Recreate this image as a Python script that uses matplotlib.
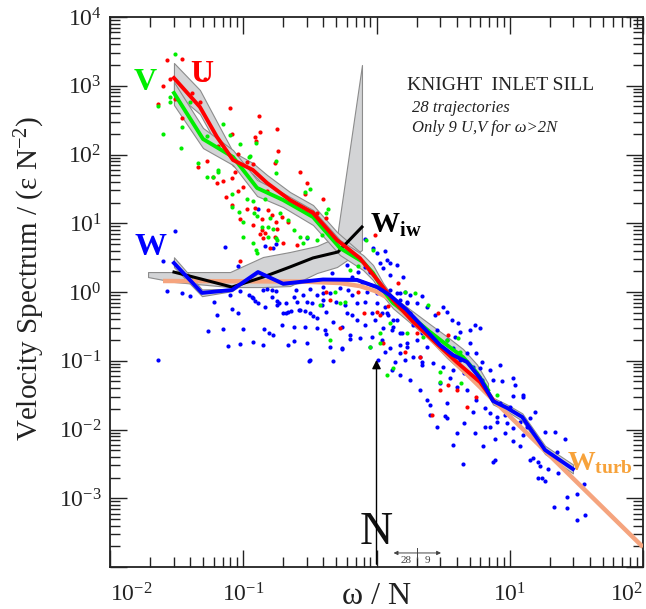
import numpy as np
import matplotlib
matplotlib.use('Agg')
import matplotlib.pyplot as plt
from matplotlib.ticker import LogLocator, NullFormatter, FixedLocator

plt.rcParams['font.family'] = ['Liberation Serif', 'DejaVu Serif']
plt.rcParams['mathtext.fontset'] = 'custom'
plt.rcParams['mathtext.rm'] = 'Liberation Serif'
plt.rcParams['mathtext.it'] = 'Liberation Serif:italic'
plt.rcParams['mathtext.bf'] = 'Liberation Serif:bold'
plt.rcParams['axes.unicode_minus'] = False

# ---------------- mean spectra (omega/N , spectrum / (eps N^-2)) ----------------
u_x = [0.0302, 0.0473, 0.0635, 0.0838, 0.118, 0.151, 0.224, 0.334, 0.505, 0.752,
       1.06, 1.33, 1.88, 3.00, 4.02, 4.78, 5.98, 7.49]
u_y = [1297, 491, 180, 83.2, 59.6, 38.5, 21.8, 14.1, 5.70, 3.1,
       1.35, 0.765, 0.37, 0.16, 0.095, 0.071, 0.049, 0.0269]

v_x = [0.0302, 0.0499, 0.0838, 0.127, 0.199, 0.334, 0.532, 0.793, 0.942, 1.12,
       1.33, 1.88, 2.52, 3.38, 4.46, 5.68, 6.87]
v_y = [785, 168, 92, 32.6, 21.8, 12.3, 4.36, 2.73, 1.89, 1.07,
       0.692, 0.419, 0.262, 0.169, 0.113, 0.0664, 0.0376]

w_x = [0.0302, 0.0490, 0.0823, 0.129, 0.199, 0.397, 0.714, 1.01, 1.26, 1.69,
       2.23, 3.00, 3.75, 4.78, 5.98, 7.49, 9.54, 12.4, 18.4, 29.8]
w_y = [2.64, 0.97, 1.07, 1.95, 1.32, 1.52, 1.50, 1.18, 0.90, 0.547,
       0.310, 0.169, 0.121, 0.096, 0.056, 0.026, 0.0206, 0.0152, 0.00504, 0.00266]

iw_x = [0.0302, 0.0473, 0.0823, 0.141, 0.224, 0.334, 0.514, 0.778]
iw_y = [1.95, 1.56, 1.18, 1.65, 2.31, 3.13, 3.82, 8.82]

turb_x = [0.0250, 0.267, 0.532, 0.751, 0.975, 1.26, 5.98, 100]
turb_y = [1.445, 1.42, 1.35, 1.22, 1.035, 0.79, 0.0415, 1.95e-4]

# ---------------- confidence bands ----------------
u_band_x = u_x[:10]
u_band_hi = [2143, 867, 297, 109, 75.2, 50.3, 28.5, 18.4, 7.46, 3.82]
u_band_lo = [811, 388, 137, 68.0, 52.0, 32.6, 18.4, 11.9, 4.83, 2.47]

v_band_x = v_x
v_band_hi = [1134, 243, 116, 42.6, 27.5, 15.6, 5.71, 3.45, 2.47, 1.35,
             0.846, 0.52, 0.34, 0.225, 0.148, 0.088, 0.047]
v_band_lo = [525, 124, 70.3, 24.9, 17.2, 9.43, 3.45, 2.09, 1.49, 0.875,
             0.58, 0.33, 0.2, 0.11, 0.068, 0.045, 0.032]

w_band_x = w_x
w_band_hi = [3.2, 1.09, 1.11, 2.03, 1.37, 1.58, 1.56, 1.23, 0.94, 0.57,
             0.322, 0.176, 0.126, 0.10, 0.060, 0.029, 0.0231, 0.0172, 0.0058, 0.0031]
w_band_lo = [2.3, 0.87, 1.03, 1.87, 1.27, 1.46, 1.44, 1.13, 0.865, 0.526,
             0.298, 0.162, 0.116, 0.092, 0.052, 0.0232, 0.0184, 0.0134, 0.0044, 0.0023]

iw_band_x = [0.0193, 0.0302, 0.0796, 0.1407, 0.2243, 0.3577, 0.505, 0.778]
iw_band_hi = [1.95, 1.95, 1.95, 3.23, 3.82, 4.67, 6.31, 2004]
iw_band_lo = [1.65, 1.40, 1.18, 1.18, 1.22, 1.89, 2.31, 4.08]

# ---------------- individual trajectory spectra ----------------
u_pts = [(0.035, 2450), (0.027, 2370), (0.028, 1250), (0.025, 980), (0.023, 540), (0.052, 1260),
         (0.041, 780), (0.031, 640), (0.047, 580), (0.080, 470), (0.035, 340), (0.131, 360),
         (0.18, 234), (0.134, 212), (0.123, 180), (0.125, 157), (0.083, 198), (0.183, 112),
         (0.065, 133), (0.053, 81), (0.046, 66), (0.087, 56), (0.107, 78), (0.091, 102),
         (0.119, 73), (0.173, 75), (0.059, 47), (0.064, 38), (0.071, 41), (0.083, 45),
         (0.267, 56), (0.30, 38), (0.099, 34), (0.092, 29), (0.15, 29), (0.29, 27),
         (0.40, 22.5), (0.074, 24), (0.082, 18.4), (0.106, 16.2), (0.123, 16.5), (0.154, 15.6),
         (0.0945, 11.6), (0.165, 13.2), (0.195, 12.3), (0.138, 11.6), (0.177, 10.4), (0.119, 9.4),
         (0.138, 8.0), (0.134, 7.0), (0.141, 6.1), (0.173, 6.3), (0.215, 10.4), (0.18, 8.2),
         (0.255, 4.8), (0.0945, 2.8), (0.33, 14.6), (0.42, 11.9), (0.36, 14.1), (0.20, 5.2),
         (0.146, 7.2), (0.159, 4.4), (0.97, 6.75), (1.45, 1.35), (0.73, 1.0), (0.448, 0.765),
         (1.0, 0.51), (0.53, 0.30), (0.80, 0.50), (2.0, 0.25), (0.42, 1.0), (1.06, 0.46),
         (1.22, 0.63), (1.12, 0.18), (1.64, 0.134), (2.12, 0.114), (2.2, 0.28), (3.45, 0.237),
         (2.9, 0.50), (4.1, 0.13), (4.0, 0.0376), (3.0, 0.0376), (4.8, 0.0213), (5.6, 0.030),
         (2.6, 0.0163), (3.45, 0.0444)]

v_pts = [(0.031, 2900), (0.028, 690), (0.028, 585), (0.023, 500), (0.040, 580), (0.035, 250),
         (0.025, 200), (0.071, 280), (0.080, 192), (0.053, 185), (0.034, 124), (0.125, 146),
         (0.112, 95), (0.046, 75), (0.177, 80), (0.065, 59.5), (0.053, 47), (0.059, 47),
         (0.0945, 141), (0.11, 92), (0.065, 56), (0.082, 26.6), (0.106, 22.5), (0.119, 21),
         (0.146, 22.5), (0.083, 17.2), (0.093, 14.6), (0.12, 14.1), (0.127, 12.7), (0.159, 11.9),
         (0.189, 14.1), (0.215, 11.1), (0.10, 10.4), (0.138, 8.8), (0.154, 8.8), (0.167, 8.2),
         (0.10, 6.3), (0.119, 5.2), (0.127, 3.7), (0.154, 6.3), (0.18, 5.7), (0.267, 6.3),
         (0.30, 6.3), (0.177, 54), (0.29, 28.5), (0.317, 31.5), (0.30, 15.6), (0.42, 14.1),
         (0.36, 5.7), (0.43, 16.1), (0.125, 4.1), (0.177, 6.1), (0.24, 8.0), (0.28, 5.2),
         (0.39, 6.75), (0.633, 2.09), (0.73, 2.4), (0.488, 1.0), (0.53, 0.69), (0.58, 0.72),
         (0.377, 0.647), (0.448, 0.20), (0.894, 0.16), (1.06, 0.18), (1.64, 1.0), (1.26, 0.35),
         (1.95, 0.98), (2.44, 0.647), (1.06, 0.25), (4.23, 0.134), (4.1, 0.214), (1.2, 0.062),
         (1.33, 0.0785), (3.0, 0.049), (4.3, 0.047), (8.0, 0.032), (0.83, 5.7), (0.94, 4.1),
         (1.69, 0.25), (2.25, 0.224), (3.36, 0.2), (3.0, 0.069)]

w_pts = [(0.031, 7.7), (0.025, 2.8), (0.073, 4.5), (0.092, 2.4), (0.027, 1.03), (0.035, 0.97),
         (0.040, 0.875), (0.060, 0.715), (0.080, 0.905), (0.0945, 1.03), (0.11, 0.905), (0.117, 0.845),
         (0.123, 0.74), (0.141, 1.07), (0.15, 1.1), (0.165, 1.07), (0.177, 1.03), (0.165, 0.845),
         (0.18, 0.74), (0.185, 0.69), (0.146, 0.605), (0.082, 0.565), (0.092, 0.495), (0.063, 0.463),
         (0.20, 0.495), (0.215, 0.51), (0.054, 0.27), (0.071, 0.29), (0.10, 0.29), (0.143, 0.29),
         (0.156, 0.25), (0.167, 0.237), (0.196, 0.331), (0.119, 0.188), (0.141, 0.169), (0.0945, 0.175),
         (0.077, 0.164), (0.215, 0.169), (0.023, 0.1025), (0.31, 0.0985), (0.24, 0.193), (0.21, 0.495),
         (0.23, 0.53), (0.267, 0.547), (0.29, 0.53), (0.335, 0.45), (0.41, 0.28), (0.42, 0.245),
         (0.33, 0.69), (0.39, 0.647), (0.40, 0.97), (0.24, 0.845), (0.21, 0.69), (0.18, 0.647),
         (0.13, 0.69), (0.119, 0.82), (0.13, 16.2), (0.167, 4.4), (0.177, 5.0), (0.146, 4.65),
         (0.30, 6.1), (0.82, 5.9), (0.94, 4.4), (1.0, 3.7), (1.16, 3.95), (1.06, 2.64),
         (1.2, 2.92), (1.26, 2.64), (1.42, 2.47), (1.58, 1.65), (0.46, 1.89), (0.60, 2.47),
         (0.82, 2.3), (0.73, 1.95), (0.894, 1.95), (1.12, 2.24), (1.26, 1.77), (0.66, 1.65),
         (0.78, 1.4), (0.40, 1.18), (0.53, 1.14), (0.61, 1.07), (0.317, 1.1), (0.25, 1.07),
         (0.28, 0.905), (0.36, 0.905), (0.448, 0.97), (0.66, 0.905), (0.85, 1.0), (1.0, 0.97),
         (1.26, 1.07), (1.42, 0.97), (1.64, 1.0), (1.5, 0.765), (1.69, 0.715), (1.58, 0.585),
         (1.78, 0.495), (0.255, 0.715), (0.30, 0.715), (0.40, 0.765), (0.50, 0.715), (0.58, 0.647),
         (0.71, 0.69), (0.82, 0.715), (1.0, 0.69), (1.16, 0.605), (0.26, 0.547), (0.317, 0.495),
         (0.42, 0.51), (0.60, 0.495), (0.66, 0.463), (0.92, 0.495), (1.1, 0.495), (1.22, 0.463),
         (1.42, 0.392), (0.36, 0.42), (0.47, 0.37), (0.55, 0.31), (0.71, 0.392), (0.82, 0.331),
         (0.974, 0.392), (0.24, 0.31), (0.29, 0.31), (0.36, 0.30), (1.12, 0.30), (1.3, 0.28),
         (1.55, 0.25), (0.633, 0.237), (0.75, 0.215), (0.92, 0.22), (1.1, 0.20), (1.69, 0.16),
         (0.30, 0.18), (0.448, 0.158), (0.55, 0.153), (1.26, 0.153), (1.5, 0.169), (0.317, 0.1025),
         (1.03, 0.1025), (1.64, 0.1025), (2.12, 0.114), (2.2, 0.0867), (0.47, 0.099), (0.55, 0.148),
         (1.3, 0.0733), (1.5, 0.97), (1.78, 0.905), (2.2, 0.875), (1.69, 0.69), (2.0, 0.69),
         (2.4, 0.605), (2.75, 0.463), (3.15, 0.605), (3.4, 0.51), (3.7, 0.392), (4.1, 0.35),
         (5.0, 0.28), (5.5, 0.331), (6.0, 0.30), (4.2, 0.262), (3.9, 0.222), (5.0, 0.18),
         (5.6, 0.13), (6.2, 0.096), (6.0, 0.078), (7.5, 0.0525), (8.7, 0.05), (10.5, 0.056),
         (12.6, 0.03), (15.5, 0.0178), (10.0, 0.021), (8.0, 0.0153), (9.5, 0.0124), (7.1, 0.0108),
         (5.3, 0.018), (4.5, 0.0124), (3.4, 0.0145), (2.85, 0.0108), (2.52, 0.0227), (3.4, 0.0245),
         (2.4, 0.0269), (2.12, 0.0376), (1.78, 0.0525), (1.5, 0.062), (1.38, 0.096), (1.16, 0.134),
         (1.5, 0.13), (1.88, 0.114), (2.2, 0.096), (2.65, 0.093), (3.15, 0.081), (3.75, 0.0733),
         (4.5, 0.066), (3.56, 0.056), (3.0, 0.047), (4.0, 0.041), (4.8, 0.0376), (5.6, 0.0269),
         (6.5, 0.0205), (8.45, 0.0245), (13.4, 0.011), (1.33, 0.31), (1.5, 0.25), (1.69, 0.18),
         (2.0, 0.2), (2.4, 0.158), (1.33, 0.392), (1.2, 0.495), (1.88, 0.331), (2.2, 0.25),
         (2.85, 0.28), (3.4, 0.2), (3.75, 0.153), (4.8, 0.13), (4.23, 0.1025), (5.3, 0.081),
         (7.1, 0.0733), (8.45, 0.0867), (6.2, 0.0525), (10.95, 0.0444), (12.6, 0.0318), (10.6, 0.031),
         (14.2, 0.0146), (11.9, 0.013), (10.6, 0.0104), (12.6, 0.0083), (9.2, 0.0089), (10.6, 0.0068),
         (7.75, 0.0073), (6.3, 0.0058), (7.75, 0.0036), (11.9, 0.0058), (18.4, 0.0092), (21.9, 0.0092),
         (26.0, 0.0073), (22.5, 0.0047), (15.0, 0.0039), (14.2, 0.0036), (16.3, 0.0034), (16.9, 0.0029),
         (19.5, 0.0027), (23.0, 0.0023), (16.3, 0.0020), (17.5, 0.0020), (18.4, 0.0018), (27.0, 0.00104),
         (32.0, 0.00115), (36.0, 0.0016), (21.4, 0.00074), (27.0, 0.00071), (32.0, 0.00049), (36.7, 0.00058),
         (6.5, 0.0108), (7.1, 0.0173), (8.0, 0.0127), (9.2, 0.0163), (2.52, 0.0163), (3.27, 0.0155),
         (3.75, 0.0060), (4.45, 0.0032), (4.0, 0.0089), (5.5, 0.0089), (7.5, 0.0034), (0.894, 0.16),
         (0.633, 0.21)]

# tick values
xticks = [1e-2, 1e-1, 1e0, 1e1, 1e2]
xticklabels = [r'$\mathdefault{10^{-2}}$', r'$\mathdefault{10^{-1}}$', '',
               r'$\mathdefault{10^{1}}$', r'$\mathdefault{10^{2}}$']
yticks = [1e-4, 1e-3, 1e-2, 1e-1, 1e0, 1e1, 1e2, 1e3, 1e4]
yticklabels = ['', r'$\mathdefault{10^{-3}}$', r'$\mathdefault{10^{-2}}$', r'$\mathdefault{10^{-1}}$',
               r'$\mathdefault{10^{0}}$', r'$\mathdefault{10^{1}}$', r'$\mathdefault{10^{2}}$',
               r'$\mathdefault{10^{3}}$', r'$\mathdefault{10^{4}}$']

# colours
RED = '#FF0000'
GREEN = '#00EE00'
BLUE = '#0000FF'
TURB_LINE = '#F5A47E'
TURB_TEXT = '#F7A23A'
BAND_FACE = '#D3D4D6'
BAND_EDGE = '#8C8C8C'

fig = plt.figure(figsize=(6.46, 6.09), dpi=100)
ax = fig.add_axes([110 / 646, 42 / 609, 533 / 646, 550 / 609])
ax.set_xscale('log')
ax.set_yscale('log')
ax.set_xlim(1e-2, 1e2)
ax.set_ylim(1e-4, 1e4)

band_kw = dict(facecolor=BAND_FACE, edgecolor=BAND_EDGE, linewidth=0.8, zorder=1)
ax.fill_between(iw_band_x, iw_band_lo, iw_band_hi, **band_kw)
ax.fill_between(u_band_x, u_band_lo, u_band_hi, **band_kw)
ax.fill_between(v_band_x, v_band_lo, v_band_hi, **band_kw)
ax.fill_between(w_band_x, w_band_lo, w_band_hi, **band_kw)

for pts, col in ((w_pts, BLUE), (u_pts, RED), (v_pts, GREEN)):
    px, py = zip(*pts)
    ax.scatter(px, py, s=9, color=col, linewidths=0, zorder=2)

ax.plot(turb_x, turb_y, color=TURB_LINE, lw=3.2, zorder=3, solid_capstyle='butt')
ax.plot(iw_x, iw_y, color='black', lw=2.2, zorder=4)
ax.plot(v_x, v_y, color=GREEN, lw=2.8, zorder=5)
ax.plot(u_x, u_y, color=RED, lw=2.8, zorder=6)
ax.plot(w_x, w_y, color=BLUE, lw=2.8, zorder=7)

# ticks
ax.xaxis.set_major_locator(FixedLocator(xticks))
ax.set_xticklabels(xticklabels)
ax.yaxis.set_major_locator(FixedLocator(yticks))
ax.set_yticklabels(yticklabels)
ax.xaxis.set_minor_locator(LogLocator(base=10, subs=np.arange(2, 10), numticks=20))
ax.yaxis.set_minor_locator(LogLocator(base=10, subs=np.arange(2, 10), numticks=20))
ax.xaxis.set_minor_formatter(NullFormatter())
ax.yaxis.set_minor_formatter(NullFormatter())
ax.tick_params(which='both', direction='in', top=True, right=True, width=1.0, colors='#222222')
ax.tick_params(which='major', length=12, labelsize=17, pad=6)
ax.tick_params(axis='x', which='major', pad=12)
ax.tick_params(which='minor', length=7)
xl = ax.get_xticklabels()
xl[0].set_horizontalalignment('left')
xl[-1].set_horizontalalignment('right')
for sp in ax.spines.values():
    sp.set_linewidth(1.3)
    sp.set_color('#222222')

# axis titles
fig.text(30 / 646, 1 - 278 / 609, 'Velocity Spectrum / (ε N$^{\\mathregular{-2}}$)',
         rotation=90, ha='center', va='center', fontsize=21, color='#222222')
fig.text(377 / 646, 1 - 596 / 609, 'ω / N', ha='center', va='center', fontsize=23, color='#222222')

# series labels
ax.text(0.049, 1480, 'U', color=RED, fontsize=23, fontweight='bold', ha='center', va='center')
ax.text(0.0183, 1100, 'V', color=GREEN, fontsize=23, fontweight='bold', ha='center', va='center')
ax.text(0.0203, 4.4, 'W', color=BLUE, fontsize=23, fontweight='bold', ha='center', va='center')
ax.text(0.894, 7.2, r'W$_{\mathbf{iw}}$', color='black', fontsize=21, fontweight='bold',
        ha='left', va='baseline')
ax.text(26.9, 0.00258, r'W$_{\mathbf{turb}}$', color=TURB_TEXT, fontsize=20, fontweight='bold',
        ha='left', va='baseline')

# annotation text
ax.text(0.557, 0.876, 'KNIGHT  INLET SILL', transform=ax.transAxes, fontsize=14,
        ha='left', va='center', color='#222222')
ax.text(0.567, 0.8345, '28 trajectories', transform=ax.transAxes, fontsize=12,
        style='italic', ha='left', va='center', color='#222222')
ax.text(0.567, 0.798, 'Only 9 U,V for ω>2N', transform=ax.transAxes, fontsize=12,
        style='italic', ha='left', va='center', color='#222222')

# buoyancy frequency marker
N_freq = 1.0
ax.annotate('', xy=(N_freq, 0.113), xytext=(N_freq, 1e-4),
            arrowprops=dict(arrowstyle='-|>', color='black', lw=1.0, mutation_scale=13), zorder=8)
ax.text(N_freq, 3.1e-4, 'N', fontsize=33, ha='center', va='center', color='#111111')
split = 2.0
ax.annotate('', xy=(3.2, 1.6e-4), xytext=(1.28, 1.6e-4),
            arrowprops=dict(arrowstyle='<|-|>', color='#444444', lw=0.7, mutation_scale=6))
ax.plot([split, split], [1.35e-4, 1.9e-4], color='#444444', lw=0.7)
ax.text(1.66, 1.25e-4, '28', fontsize=8, ha='center', va='center', color='#444444')
ax.text(2.39, 1.25e-4, '9', fontsize=8, ha='center', va='center', color='#444444')

fig.savefig('out.png', dpi=100)
